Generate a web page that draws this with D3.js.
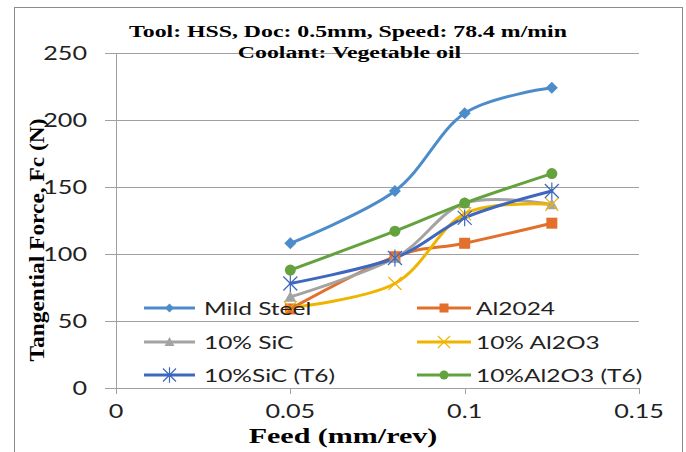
<!DOCTYPE html>
<html>
<head>
<meta charset="utf-8">
<script src="https://cdn.jsdelivr.net/npm/d3@7"></script>
<style>
  html, body { margin: 0; padding: 0; background: #fff; }
  svg { display: block; }
</style>
</head>
<body>
<svg id="chart" width="686" height="452"></svg>
<script>
// Feed rates (mm/rev) at which the tangential force was measured
const feed = [0.05, 0.08, 0.1, 0.125];

// Tangential force Fc (N) per work material
const mildSteel   = [108, 147, 205, 224];
const al2024      = [59, 98, 108, 123];
const sic10       = [68, 97, 138, 137];
const al2o3_10    = [60, 78, 130, 137];
const sic10T6     = [78, 97, 127, 147];
const al2o3_10T6  = [88, 117, 138, 160];

const seriesNames = ["Mild Steel", "Al2024", "10% SiC", "10% Al2O3", "10%SiC (T6)", "10%Al2O3 (T6)"];
const seriesValues = [mildSteel, al2024, sic10, al2o3_10, sic10T6, al2o3_10T6];

const xTicks = [0, 0.05, 0.1, 0.15];
const xTickLabels = ["0", "0.05", "0.1", "0.15"];
const yTicks = [0, 50, 100, 150, 200, 250];
const yTickLabels = ["0", "50", "100", "150", "200", "250"];

const titleLines = ["Tool: HSS, Doc: 0.5mm, Speed: 78.4 m/min", "Coolant: Vegetable oil"];
const xTitle = "Feed (mm/rev)";
const yTitle = "Tangential Force, Fc (N)";

// Presentation
const colors  = ["#4d8ccb", "#e2702c", "#a3a3a3", "#f0b400", "#3e67bd", "#63a23d"];
const markers = ["diamond", "square", "triangle", "cross", "star", "circle"];

const svg = d3.select("#chart");
const plot = { left: 116, right: 639, top: 53, bottom: 388 };

const x = d3.scaleLinear().domain([0, 0.15]).range([plot.left, plot.right]);
const y = d3.scaleLinear().domain([0, 250]).range([plot.bottom, plot.top]);

const SANS = "Lato, 'Open Sans', sans-serif";
const SERIF = "'Liberation Serif', 'Times New Roman', serif";
const gridColor = "#a0a0a0";

// Text drawn with a horizontal stretch factor k along its run direction
function stretchedText(parent, str, px, py, opts) {
  const o = Object.assign({ k: 1, rotate: 0, anchor: "start", size: 16, family: SANS, weight: "normal", fill: "#000" }, opts);
  return parent.append("text")
    .attr("transform", `translate(${px},${py}) rotate(${o.rotate}) scale(${o.k},1)`)
    .attr("text-anchor", o.anchor)
    .attr("font-family", o.family)
    .attr("font-size", o.size)
    .attr("font-weight", o.weight)
    .attr("fill", o.fill)
    .text(str);
}

// Outer chart frame
svg.append("rect")
  .attr("x", 14.5).attr("y", 7.5)
  .attr("width", 668).attr("height", 450)
  .attr("fill", "#fff").attr("stroke", "#8c8c8c").attr("stroke-width", 1);

// Horizontal gridlines with outward tick marks
const yAxis = d3.axisLeft(y).tickValues(yTicks)
  .tickSize(-(plot.right - plot.left)).tickSizeOuter(0).tickFormat("");
const gy = svg.append("g").attr("transform", `translate(${plot.left},0)`).call(yAxis);
gy.select(".domain").attr("stroke", gridColor).attr("shape-rendering", "crispEdges");
gy.selectAll(".tick line").attr("stroke", gridColor).attr("x1", -11).attr("shape-rendering", "crispEdges");

// Horizontal axis with ticks pointing down
const xAxis = d3.axisBottom(x).tickValues(xTicks).tickSize(6).tickSizeOuter(0).tickFormat("");
const gx = svg.append("g").attr("transform", `translate(0,${plot.bottom})`).call(xAxis);
gx.select(".domain").attr("stroke", gridColor).attr("shape-rendering", "crispEdges");
gx.selectAll(".tick line").attr("stroke", gridColor).attr("shape-rendering", "crispEdges");

// Tick labels
yTicks.forEach((v, i) => {
  stretchedText(svg, yTickLabels[i], 87, y(v) + 6.5, { anchor: "end", size: 18.5, k: 1.36, fill: "#222" });
});
xTicks.forEach((v, i) => {
  stretchedText(svg, xTickLabels[i], x(v), 418, { anchor: "middle", size: 18.5, k: 1.36, fill: "#222" });
});

// Series lines (smoothed)
const line = d3.line()
  .x((d, i) => x(feed[i]))
  .y(d => y(d))
  .curve(d3.curveCardinal.tension(0));

const gLines = svg.append("g");
seriesValues.forEach((vals, s) => {
  gLines.append("path")
    .datum(vals)
    .attr("d", line)
    .attr("fill", "none")
    .attr("stroke", colors[s])
    .attr("stroke-width", 3)
    .attr("stroke-linejoin", "round")
    .attr("stroke-linecap", "round");
});

// Marker shapes
function drawMarker(g, type, cx, cy, color, r) {
  switch (type) {
    case "diamond":
      g.append("path").attr("d", `M${cx},${cy - r}L${cx + r},${cy}L${cx},${cy + r}L${cx - r},${cy}Z`).attr("fill", color);
      break;
    case "square":
      g.append("rect").attr("x", cx - r).attr("y", cy - r).attr("width", 2 * r).attr("height", 2 * r).attr("fill", color);
      break;
    case "triangle":
      g.append("path").attr("d", `M${cx},${cy - r}L${cx + r},${cy + r * 0.8}L${cx - r},${cy + r * 0.8}Z`).attr("fill", color);
      break;
    case "circle":
      g.append("circle").attr("cx", cx).attr("cy", cy).attr("r", r).attr("fill", color);
      break;
    case "cross":
      g.append("path").attr("d", `M${cx - r},${cy - r}L${cx + r},${cy + r}M${cx - r},${cy + r}L${cx + r},${cy - r}`)
        .attr("stroke", color).attr("stroke-width", 1.2).attr("fill", "none");
      break;
    case "star":
      g.append("path").attr("d", `M${cx - r},${cy - r}L${cx + r},${cy + r}M${cx - r},${cy + r}L${cx + r},${cy - r}M${cx},${cy - r * 1.2}L${cx},${cy + r * 1.2}`)
        .attr("stroke", color).attr("stroke-width", 1.2).attr("fill", "none");
      break;
  }
}

const markerSize = [6, 5.5, 6, 6.5, 7, 5.5];
const gMarks = svg.append("g");
seriesValues.forEach((vals, s) => {
  vals.forEach((v, i) => drawMarker(gMarks, markers[s], x(feed[i]), y(v), colors[s], markerSize[s]));
});

// Legend: three rows by two columns inside the plot area
const legendCols = [{ x0: 144, x1: 195, tx: 204 }, { x0: 417, x1: 471, tx: 476 }];
const legendRows = [308, 342, 375];
const legendMarker = [4.5, 4.5, 5, 6, 6.5, 4.5];
const gLegend = svg.append("g");
seriesNames.forEach((name, s) => {
  const c = legendCols[s % 2], ry = legendRows[Math.floor(s / 2)];
  gLegend.append("line")
    .attr("x1", c.x0).attr("x2", c.x1).attr("y1", ry).attr("y2", ry)
    .attr("stroke", colors[s]).attr("stroke-width", 3);
  drawMarker(gLegend, markers[s], (c.x0 + c.x1) / 2, ry, colors[s], legendMarker[s]);
  stretchedText(gLegend, name, c.tx, ry + 6.5, { size: 18, k: 1.36, fill: "#222" });
});

// Chart title
stretchedText(svg, titleLines[0], 348, 36.5, { anchor: "middle", size: 17.5, k: 1.36, family: SERIF, weight: "bold" });
stretchedText(svg, titleLines[1], 349.5, 57.5, { anchor: "middle", size: 17.5, k: 1.36, family: SERIF, weight: "bold" });

// Axis titles
stretchedText(svg, xTitle, 343, 443, { anchor: "middle", size: 21, k: 1.43, family: SERIF, weight: "bold" });
stretchedText(svg, yTitle, 44, 240, { anchor: "middle", size: 20, k: 1.17, rotate: -90, family: SERIF, weight: "bold" });
</script>
</body>
</html>
